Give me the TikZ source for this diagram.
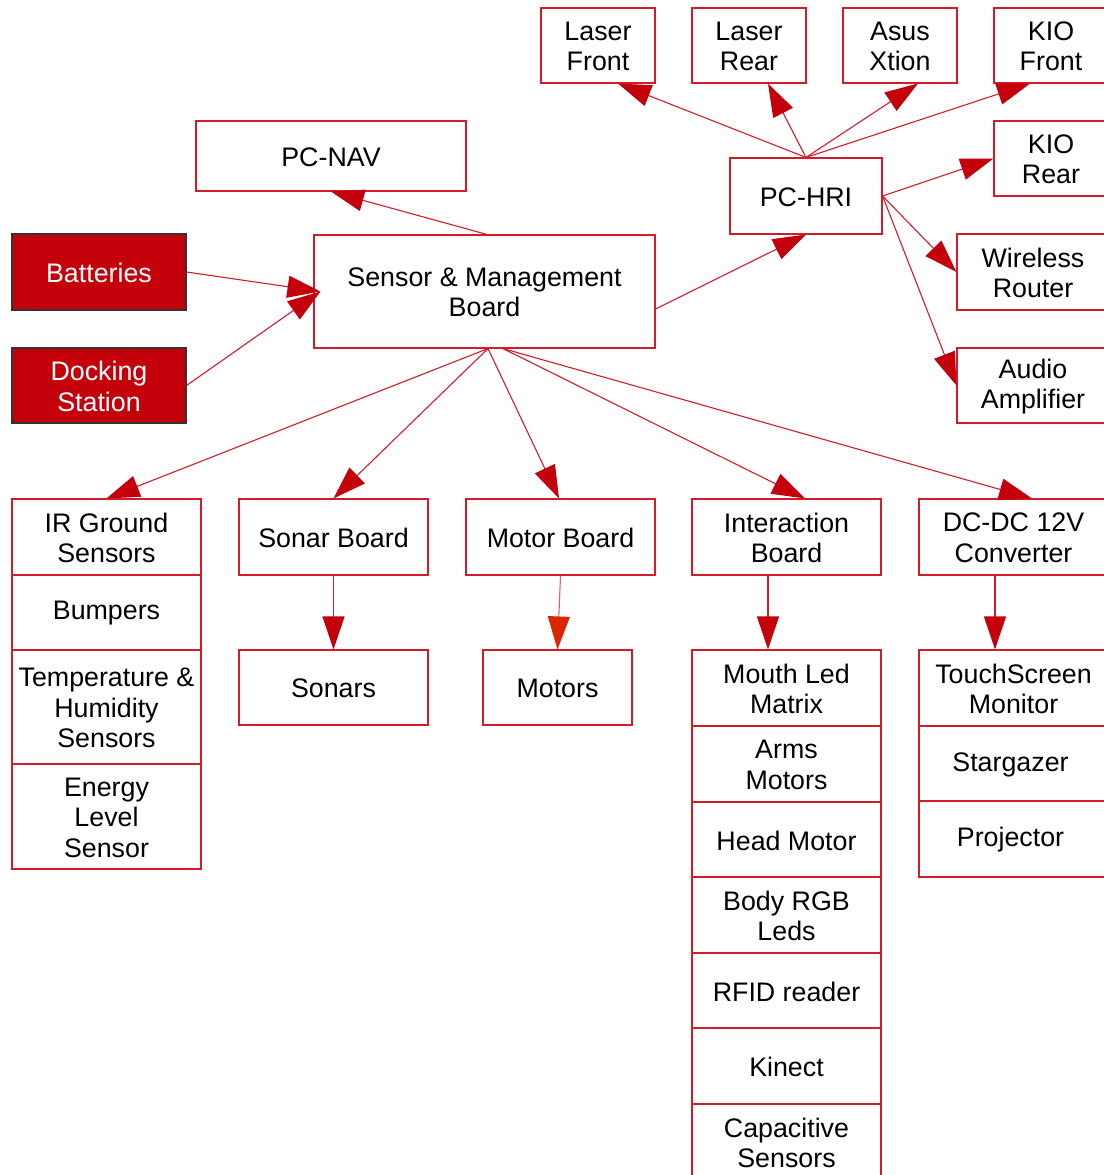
\documentclass[tikz,border=0pt]{standalone}
\usepackage{fontspec}
\setmainfont{Liberation Sans}
\usetikzlibrary{arrows.meta,fit,calc}
\definecolor{bordred}{RGB}{210,28,42}
\definecolor{arrred}{RGB}{196,0,12}
\definecolor{arrorange}{RGB}{221,38,0}
\definecolor{fillred}{RGB}{196,0,11}
\newcommand\bx[7][box]{%
  \node[#1,fit={(#3,#4) (#5,#6)}] (#2) {};
  \node[txt,#1txt] at ([yshift=-1pt]#2.center) {#7};}
\begin{document}
\begin{tikzpicture}[x=1pt,y=-1pt,
  box/.style={draw=bordred,line width=1.1pt,inner sep=0pt},
  darkbox/.style={box,draw=black!80,fill=fillred},
  boxtxt/.style={},
  darkboxtxt/.style={text=white},
  leftbox/.style={box},
  leftboxtxt/.style={xshift=-3pt},
  txt/.style={inner sep=0pt,align=center,
    font=\fontsize{26.8}{30.5}\selectfont},
  conn/.style={draw=bordred,line width=1.1pt,
    -{Triangle[length=33pt,width=22pt,fill=arrred,color=arrred]}},
  conno/.style={draw=bordred!70,line width=1.1pt,
    -{Triangle[length=33pt,width=22pt,fill=arrorange,color=arrorange]}}]
\useasboundingbox (0,0) rectangle (1103,1175);
% top row
\bx{lf}{541}{8}{655}{83}{Laser\\Front}
\bx{lr}{692}{8}{806}{83}{Laser\\Rear}
\bx{ax}{843}{8}{957}{83}{Asus\\Xtion}
\bx{kf}{994}{8}{1108}{83}{KIO\\Front}
\bx{kr}{994}{121}{1108}{196}{KIO\\Rear}
\bx{nav}{196}{121}{466}{191}{PC-NAV}
\bx{hri}{730}{158}{882}{234}{PC-HRI}
\bx[darkbox]{bat}{12}{234}{186}{310}{Batteries}
\bx[darkbox]{dock}{12}{348}{186}{423}{Docking\\Station}
\bx{smb}{314}{235}{655}{348}{Sensor \& Management\\Board}
\bx{wr}{957}{234}{1109}{310}{Wireless\\Router}
\bx{aa}{957}{348}{1109}{423}{Audio\\Amplifier}
% lower columns
\bx{ir}{12}{499}{201}{575}{IR Ground\\Sensors}
\bx{bump}{12}{575}{201}{650}{Bumpers}
\bx{temp}{12}{650}{201}{764}{Temperature \&\\Humidity\\Sensors}
\bx{energy}{12}{764}{201}{869}{Energy\\Level\\Sensor}
\bx{sb}{239}{499}{428}{575}{Sonar Board}
\bx{sonars}{239}{650}{428}{725}{Sonars}
\bx{mb}{466}{499}{655}{575}{Motor Board}
\bx{motors}{483}{650}{632}{725}{Motors}
\bx{ib}{692}{499}{881}{575}{Interaction\\Board}
\bx{mouth}{692}{650}{881}{726}{Mouth Led\\Matrix}
\bx{arms}{692}{726}{881}{802}{Arms\\Motors}
\bx{head}{692}{802}{881}{877}{Head Motor}
\bx{body}{692}{877}{881}{953}{Body RGB\\Leds}
\bx{rfid}{692}{953}{881}{1028}{RFID reader}
\bx{kinect}{692}{1028}{881}{1104}{Kinect}
\bx{cap}{692}{1104}{881}{1180}{Capacitive\\Sensors}
\bx{dc}{919}{499}{1108}{575}{DC-DC 12V\\Converter}
\bx{touch}{919}{650}{1108}{726}{TouchScreen\\Monitor}
\bx[leftbox]{star}{919}{726}{1108}{801}{Stargazer}
\bx[leftbox]{proj}{919}{801}{1108}{877}{Projector}
% connectors
\draw[conn] ([xshift=2.5pt]smb.north) -- (nav.south);
\draw[conn] (bat.east) -- ([xshift=7pt]smb.west);
\draw[conn] (dock.east) -- ([xshift=7pt]smb.west);
\draw[conn] ([yshift=-17.5pt]smb.east) -- (hri.south);
\draw[conn] (hri.north) -- ([xshift=20pt]lf.south);
\draw[conn] (hri.north) -- ([xshift=19pt]lr.south);
\draw[conn] (hri.north) -- ([xshift=18pt]ax.south);
\draw[conn] (hri.north) -- ([xshift=-21pt]kf.south);
\draw[conn] (hri.east) -- (kr.west);
\draw[conn] (hri.east) -- (wr.west);
\draw[conn] (hri.east) -- (aa.west);
\draw[conn] ([xshift=3.5pt]smb.south) -- (ir.north);
\draw[conn] ([xshift=3.5pt]smb.south) -- (sb.north);
\draw[conn] ([xshift=3.5pt]smb.south) -- ([xshift=-1.5pt]mb.north);
\draw[conn] ([xshift=18.5pt]smb.south) -- ([xshift=18.5pt]ib.north);
\draw[conn] ([xshift=18.5pt]smb.south) -- ([xshift=18.5pt]dc.north);
\draw[conn] (sb.south) -- (sonars.north);
\draw[conno] (mb.south) -- (motors.north);
\draw[conn] ([xshift=-18.5pt]ib.south) -- ([xshift=-18.5pt]ib.south |- mouth.north);
\draw[conn] ([xshift=-18.5pt]dc.south) -- ([xshift=-18.5pt]dc.south |- touch.north);
\end{tikzpicture}
\end{document}
